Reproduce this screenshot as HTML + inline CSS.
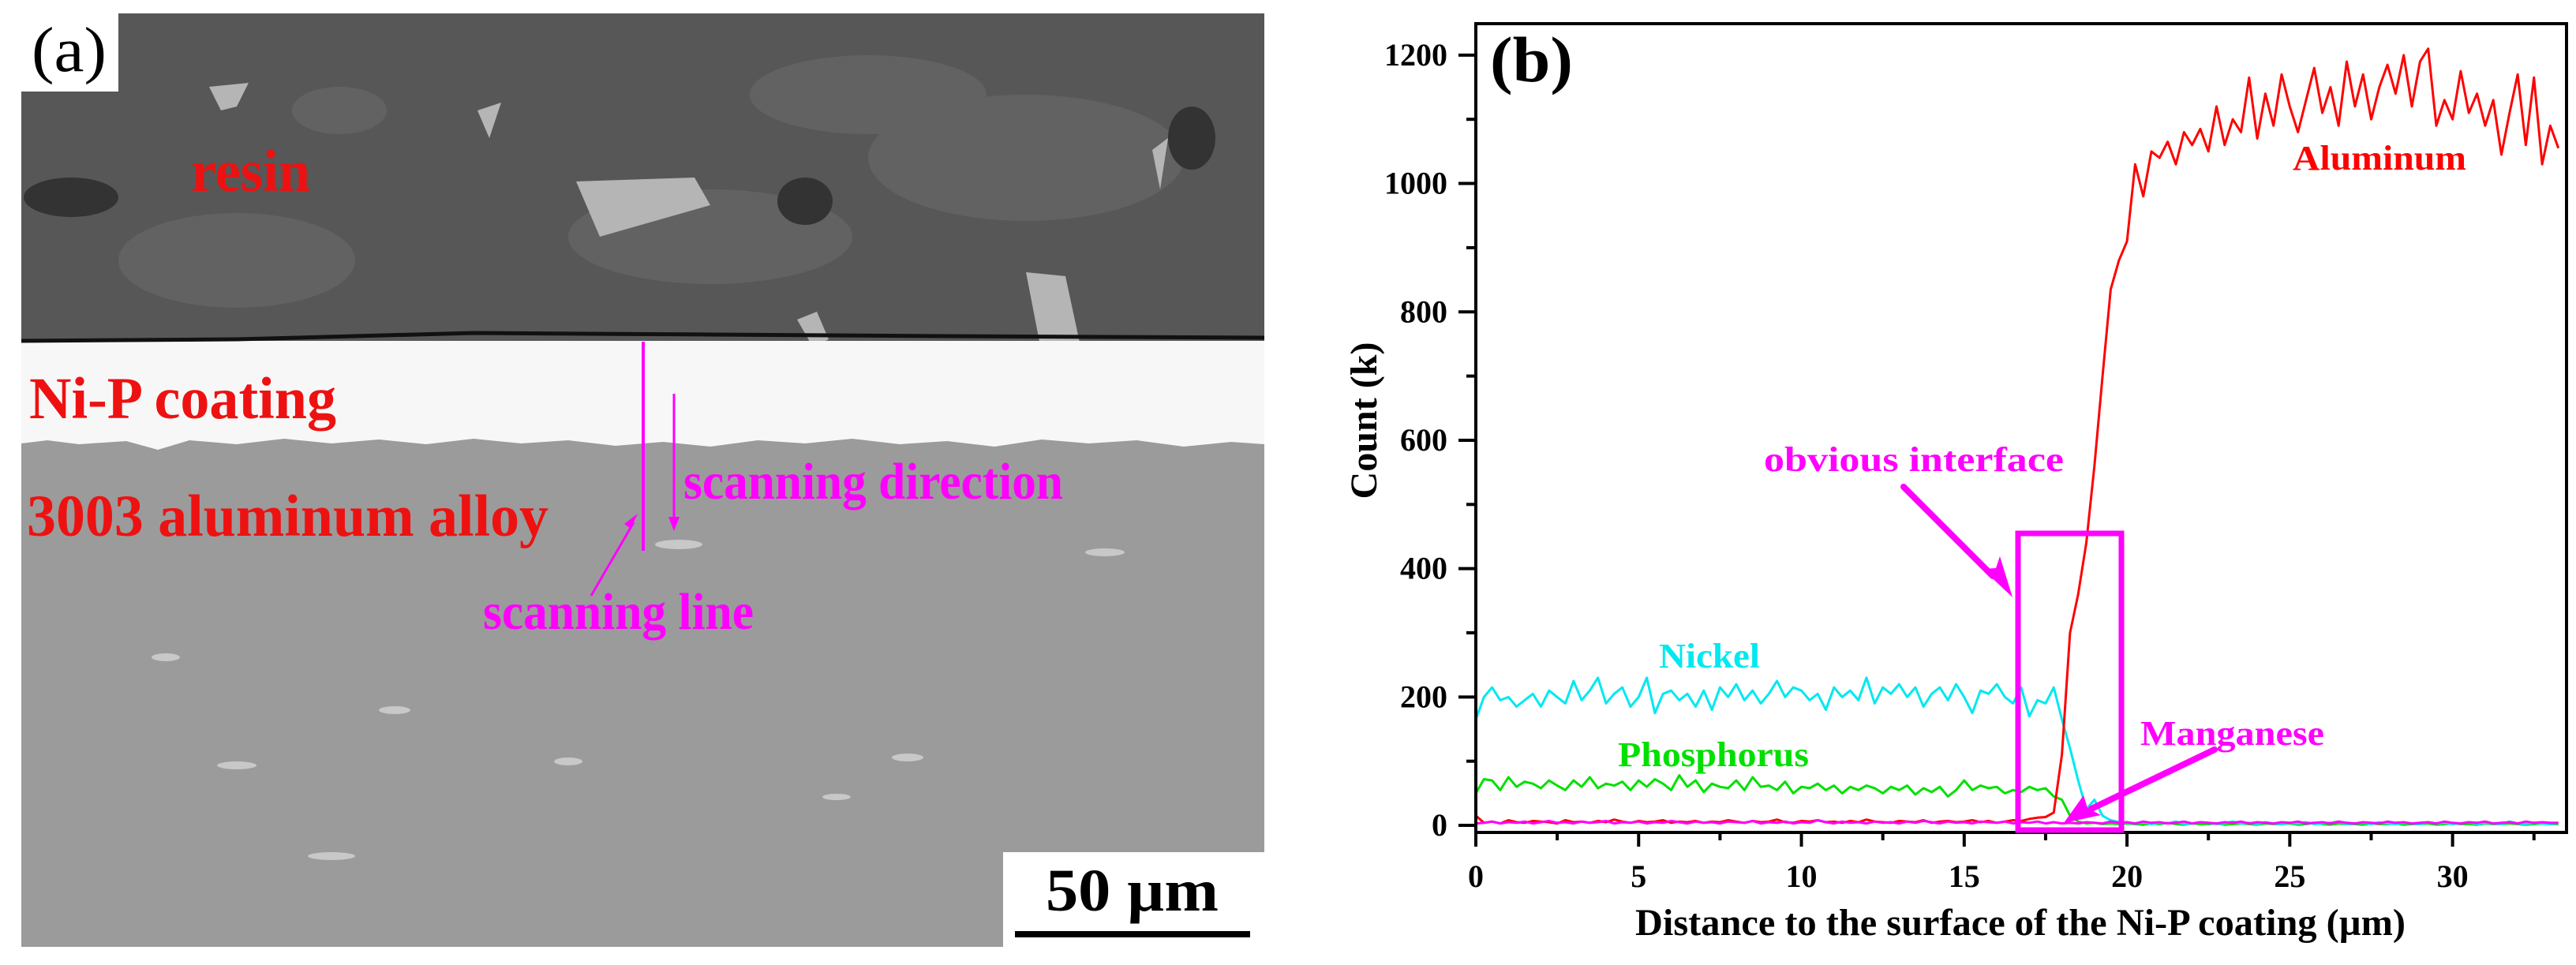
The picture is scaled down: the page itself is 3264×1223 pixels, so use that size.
<!DOCTYPE html>
<html><head><meta charset="utf-8">
<style>
html,body{margin:0;padding:0;background:#fff;}
svg{display:block;}
text{font-family:"Liberation Serif","DejaVu Serif",serif;font-weight:bold;}
</style></head>
<body>
<svg id="root" width="3264" height="1223" viewBox="0 0 3264 1223" xmlns="http://www.w3.org/2000/svg" font-family="Liberation Serif, serif" font-weight="bold">
<g>
  <rect x="27" y="17" width="1575" height="1183" fill="#9b9b9b"/>
  <rect x="27" y="17" width="1575" height="415" fill="#575757"/>
  <g fill="#626262">
    <ellipse cx="430" cy="140" rx="60" ry="30"/><ellipse cx="900" cy="300" rx="180" ry="60"/><ellipse cx="1300" cy="200" rx="200" ry="80"/>
    <ellipse cx="300" cy="330" rx="150" ry="60"/><ellipse cx="1100" cy="120" rx="150" ry="50"/>
  </g>
  <g fill="#b5b5b5">
    <polygon points="265,110 315,105 300,135 280,140"/><polygon points="730,230 880,225 900,260 760,300"/>
    <polygon points="1300,345 1350,350 1380,490 1330,500"/><polygon points="605,140 635,130 620,175"/>
    <polygon points="1010,405 1035,395 1050,430 1030,440"/><polygon points="1460,190 1480,175 1470,240"/>
  </g>
  <g fill="#333">
    <ellipse cx="90" cy="250" rx="60" ry="25"/><ellipse cx="1020" cy="255" rx="35" ry="30"/><ellipse cx="1510" cy="175" rx="30" ry="40"/>
  </g>
  <path d="M27,432 L1602,432 L1602,563 L1560,560 L1500,566 L1440,558 L1380,562 L1320,557 L1260,566 L1200,559 L1140,563 L1080,556 L1020,562 L960,558 L900,566 L840,560 L780,565 L720,558 L660,562 L600,556 L540,563 L480,557 L420,562 L360,556 L300,563 L240,558 L200,570 L160,559 L100,563 L60,558 L27,562 Z" fill="#f7f7f7"/>
  <path d="M27,432 L300,430 L600,422 L900,424 L1200,426 L1602,428" stroke="#111" stroke-width="5" fill="none"/>
  <g fill="#c8c8c8">
    <ellipse cx="210" cy="833" rx="18" ry="5"/><ellipse cx="500" cy="900" rx="20" ry="5"/><ellipse cx="860" cy="690" rx="30" ry="6"/>
    <ellipse cx="1150" cy="960" rx="20" ry="5"/><ellipse cx="720" cy="965" rx="18" ry="5"/><ellipse cx="1400" cy="700" rx="25" ry="5"/>
    <ellipse cx="420" cy="1085" rx="30" ry="5"/><ellipse cx="1060" cy="1010" rx="18" ry="4"/><ellipse cx="300" cy="970" rx="25" ry="5"/>
  </g>
  <rect x="27" y="17" width="123" height="99" fill="#fff"/>
  <text x="40" y="90" font-size="80" font-weight="normal" style="font-weight:normal" fill="#000" textLength="95" lengthAdjust="spacingAndGlyphs">(a)</text>
  <text x="242" y="242" font-size="75" fill="#ee1111" textLength="151" lengthAdjust="spacingAndGlyphs">resin</text>
  <text x="37" y="530" font-size="75" fill="#ee1111" textLength="389" lengthAdjust="spacingAndGlyphs">Ni-P coating</text>
  <text x="34" y="679" font-size="75" fill="#ee1111" textLength="661" lengthAdjust="spacingAndGlyphs">3003 aluminum alloy</text>
  <line x1="815" y1="433" x2="815" y2="698" stroke="#ff00ff" stroke-width="4"/>
  <line x1="854" y1="499" x2="854" y2="660" stroke="#ff00ff" stroke-width="3"/>
  <polygon points="847,655 861,655 854,673" fill="#ff00ff"/>
  <line x1="749" y1="755" x2="803" y2="662" stroke="#ff00ff" stroke-width="3"/>
  <polygon points="808,651 799,670 791,664" fill="#ff00ff"/>
  <text x="866" y="632" font-size="66" fill="#ff00ff" textLength="481" lengthAdjust="spacingAndGlyphs">scanning direction</text>
  <text x="612" y="797" font-size="66" fill="#ff00ff" textLength="343" lengthAdjust="spacingAndGlyphs">scanning line</text>
  <rect x="1271" y="1080" width="331" height="120" fill="#fff"/>
  <text x="1325" y="1154" font-size="76" fill="#000" textLength="219" lengthAdjust="spacingAndGlyphs">50 µm</text>
  <rect x="1286" y="1180" width="298" height="8" fill="#000"/>
</g>
<g id="chart"></g>
</svg>
<script>
const distance = [0,0.25,0.5,0.75,1,1.25,1.5,1.75,2,2.25,2.5,2.75,3,3.25,3.5,3.75,4,4.25,4.5,4.75,5,5.25,5.5,5.75,6,6.25,6.5,6.75,7,7.25,7.5,7.75,8,8.25,8.5,8.75,9,9.25,9.5,9.75,10,10.25,10.5,10.75,11,11.25,11.5,11.75,12,12.25,12.5,12.75,13,13.25,13.5,13.75,14,14.25,14.5,14.75,15,15.25,15.5,15.75,16,16.25,16.5,16.75,17,17.25,17.5,17.75,18,18.25,18.5,18.75,19,19.25,19.5,19.75,20,20.25,20.5,20.75,21,21.25,21.5,21.75,22,22.25,22.5,22.75,23,23.25,23.5,23.75,24,24.25,24.5,24.75,25,25.25,25.5,25.75,26,26.25,26.5,26.75,27,27.25,27.5,27.75,28,28.25,28.5,28.75,29,29.25,29.5,29.75,30,30.25,30.5,30.75,31,31.25,31.5,31.75,32,32.25,32.5,32.75,33,33.25];
const aluminum = [15,4,6,3,8,5,4,7,6,5,3,8,5,6,4,7,5,9,6,4,7,5,6,8,4,6,5,7,4,6,5,8,6,4,7,5,6,9,5,4,7,6,8,5,6,4,7,5,9,6,5,4,7,6,5,8,4,6,7,5,6,8,5,7,4,6,8,7,10,12,13,20,110,300,360,440,560,700,835,880,910,1030,980,1050,1040,1065,1030,1080,1060,1085,1050,1120,1060,1100,1080,1165,1070,1140,1090,1170,1120,1080,1130,1180,1110,1150,1090,1190,1120,1170,1100,1150,1185,1140,1200,1120,1190,1210,1090,1130,1100,1175,1110,1140,1090,1130,1045,1110,1170,1060,1165,1030,1090,1055];
const nickel = [165,200,215,195,200,185,195,205,185,210,200,190,225,195,210,230,190,205,215,185,200,230,175,205,210,195,205,185,210,180,215,200,220,195,210,190,205,225,200,215,210,195,205,180,215,200,210,195,230,190,215,205,220,200,215,185,205,215,195,220,200,175,210,205,220,200,190,215,170,195,190,215,165,120,70,25,40,15,8,5,4,3,5,2,4,3,6,2,3,5,4,2,3,6,3,4,2,5,3,2,4,3,5,2,3,4,6,2,3,4,2,5,3,2,4,3,2,5,3,4,2,3,5,2,4,3,2,6,3,2,4,3,2,4];
const phosphorus = [50,72,70,55,75,60,68,65,58,70,62,55,70,60,75,58,65,62,68,55,70,60,72,65,55,78,60,70,52,65,60,58,70,55,75,60,62,55,68,50,60,58,65,55,62,50,60,55,62,58,50,60,55,62,48,58,52,60,45,55,70,55,62,58,60,50,55,52,60,55,58,45,40,15,6,3,4,2,3,2,3,2,1,3,2,4,2,1,3,2,2,3,1,2,3,2,1,3,2,2,3,1,2,4,2,1,3,2,2,1,3,2,2,3,1,2,2,3,1,2,3,2,2,1,3,2,2,3,2,1,2,3,2,2];
const manganese = [3,4,6,3,5,4,6,3,5,7,4,5,3,6,4,5,7,3,5,4,6,3,5,4,7,5,3,6,4,5,3,6,5,4,7,3,5,4,6,3,5,4,8,5,3,6,4,5,3,6,4,5,3,6,4,7,5,3,6,4,5,3,6,5,4,6,3,5,4,6,3,5,3,4,3,5,4,3,6,4,5,3,6,4,5,3,4,6,3,5,4,3,5,4,6,3,5,4,3,5,4,6,3,4,5,3,6,4,3,5,4,3,6,4,5,3,4,5,3,6,4,3,5,4,6,3,4,5,3,6,4,5,4,4];
const xTicks = [0,5,10,15,20,25,30];
const xMinorTicks = [2.5,7.5,12.5,17.5,22.5,27.5,32.5];
const yTicks = [0,200,400,600,800,1000,1200];
const yMinorTicks = [100,300,500,700,900,1100];

const NS = "http://www.w3.org/2000/svg";
const L = 1870, R = 3252, T = 30, B = 1055;
const X0 = 0, X1 = 33.5, Y0 = -11, Y1 = 1249;
function xs(v){ return L + (v - X0) / (X1 - X0) * (R - L); }
function ys(v){ return B - (v - Y0) / (Y1 - Y0) * (B - T); }
const chart = document.getElementById('chart');
function mk(tag, attrs, parent){
  const e = document.createElementNS(NS, tag);
  for (const k in attrs) e.setAttribute(k, attrs[k]);
  (parent || chart).appendChild(e);
  return e;
}
function series(vals, color, name, w){
  let d = '';
  const n = Math.min(vals.length, distance.length);
  for (let i = 0; i < n; i++) d += (i ? 'L' : 'M') + xs(distance[i]).toFixed(1) + ',' + ys(vals[i]).toFixed(1);
  const p = mk('path', {d: d, stroke: color, 'stroke-width': w, fill: 'none', 'stroke-linejoin': 'round'});
  
  
}
series(phosphorus, '#00e000', 'phosphorus-line', 3);
series(nickel, '#00e8f0', 'nickel-line', 3);
series(aluminum, '#ff0000', 'aluminum-line', 3);
series(manganese, '#ff00ff', 'manganese-line', 3);

const frame = mk('rect', {x: L, y: T, width: R - L, height: B - T, fill: 'none', stroke: '#000', 'stroke-width': 4});



xTicks.forEach(v => {
  const t = mk('line', {x1: xs(v), x2: xs(v), y1: B, y2: B + 18, stroke: '#000', 'stroke-width': 4});
  
  
  const l = mk('text', {x: xs(v), y: 1124, 'font-size': 40, 'text-anchor': 'middle', fill: '#000'});
  l.textContent = v;
  
  
});
xMinorTicks.forEach(v => {
  const t = mk('line', {x1: xs(v), x2: xs(v), y1: B, y2: B + 10, stroke: '#000', 'stroke-width': 4});
  
  
});
yTicks.forEach(v => {
  const t = mk('line', {x1: L - 22, x2: L, y1: ys(v), y2: ys(v), stroke: '#000', 'stroke-width': 4});
  
  
  const l = mk('text', {x: 1834, y: ys(v) + 13, 'font-size': 40, 'text-anchor': 'end', fill: '#000'});
  l.textContent = v;
  
  
});
yMinorTicks.forEach(v => {
  const t = mk('line', {x1: L - 12, x2: L, y1: ys(v), y2: ys(v), stroke: '#000', 'stroke-width': 4});
  
  
});

function label(txt, x, y, size, color, len, name){
  const e = mk('text', {x: x, y: y, 'font-size': size, fill: color, textLength: len, lengthAdjust: 'spacingAndGlyphs'});
  e.textContent = txt;
  
  
  return e;
}
label('Distance to the surface of the Ni-P coating (µm)', 2072, 1185, 48, '#000', 976, 'x-axis-title');
const yt = mk('text', {x: 0, y: 0, 'font-size': 48, fill: '#000', 'text-anchor': 'middle', textLength: 199, lengthAdjust: 'spacingAndGlyphs', transform: 'translate(1744,533) rotate(-90)'});
yt.textContent = 'Count (k)';


label('(b)', 1888, 103, 82, '#000', 105, 'panel-b-label');
label('Aluminum', 2905, 215, 44, '#ff0000', 220, 'aluminum-label');
label('obvious interface', 2235, 597, 44, '#ff00ff', 380, 'interface-label');
label('Nickel', 2102, 846, 44, '#00e8f0', 128, 'nickel-label');
label('Phosphorus', 2050, 971, 44, '#00e000', 242, 'phosphorus-label');
label('Manganese', 2712, 944, 44, '#ff00ff', 233, 'manganese-label');

const box = mk('rect', {x: 2557, y: 676, width: 131, height: 376, fill: 'none', stroke: '#ff00ff', 'stroke-width': 7});


const a1 = mk('line', {x1: 2412, y1: 617, x2: 2525, y2: 730, stroke: '#ff00ff', 'stroke-width': 8, 'stroke-linecap': 'round'});


const h1 = mk('polygon', {points: '2550,757 2512,721 2529,720 2534,705', fill: '#ff00ff'});


const a2 = mk('line', {x1: 2806, y1: 950, x2: 2650, y2: 1025, stroke: '#ff00ff', 'stroke-width': 8, 'stroke-linecap': 'round'});


const h2 = mk('polygon', {points: '2615,1043 2640,1008 2645,1024 2662,1033', fill: '#ff00ff'});


</script>
</body></html>
